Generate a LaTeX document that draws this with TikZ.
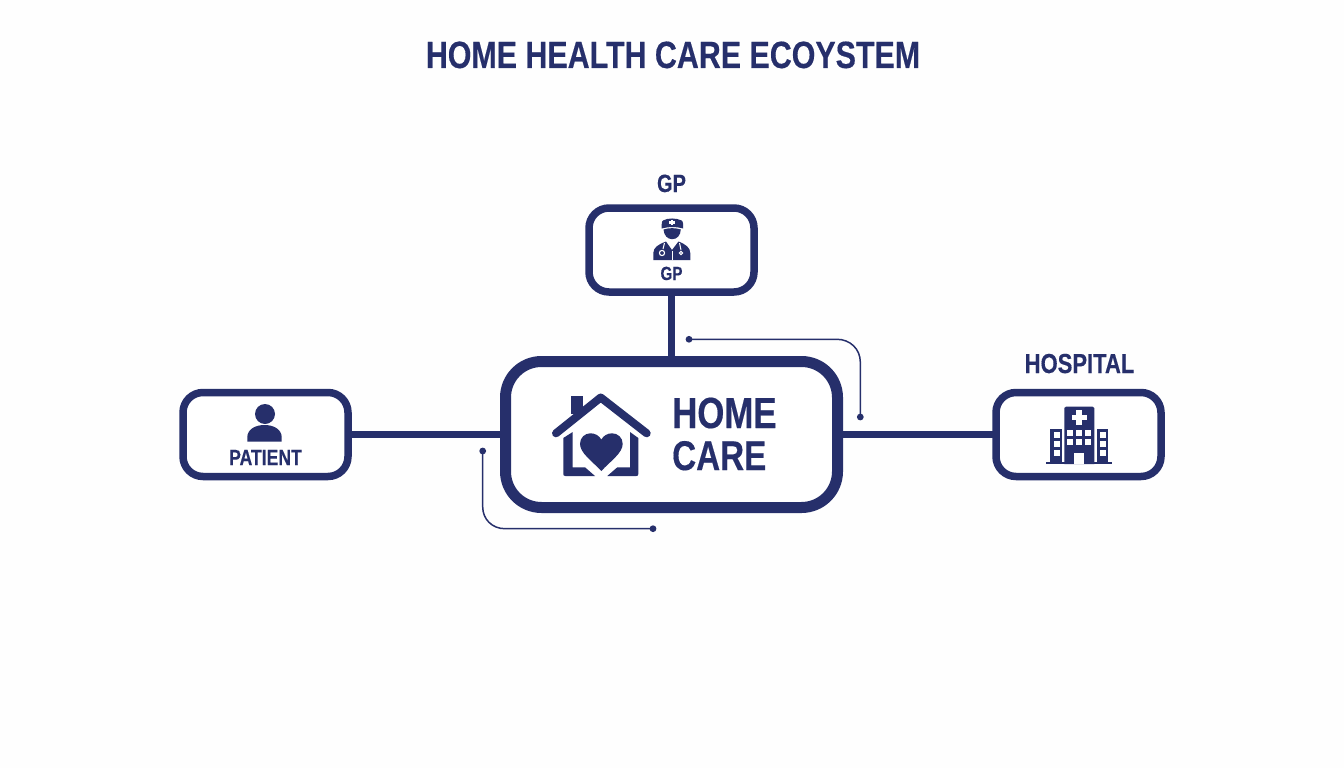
\documentclass[tikz,border=0pt]{standalone}
\usepackage{fontspec}
\setmainfont[FakeStretch=0.8,BoldFont={Liberation Sans Bold},BoldFeatures={FakeBold=0.35}]{Liberation Sans}
\definecolor{navy}{HTML}{262F6B}
\definecolor{paper}{HTML}{FEFEFE}
\tikzset{
  box/.style={draw=navy,fill=white,rectangle,inner sep=0pt,outer sep=0pt},
  smallbox/.style={box,line width=7.5pt,minimum width=165pt,minimum height=84pt,rounded corners=20pt},
  bigbox/.style={box,line width=11pt,minimum width=332pt,minimum height=146pt,rounded corners=36pt},
  label/.style={text=navy,inner sep=0pt,anchor=base,font=\bfseries},
  link/.style={draw=navy,line width=6.5pt},
  thin/.style={draw=navy,line width=1.5pt},
  dot/.style={fill=navy},
  ink/.style={fill=navy,draw=none},
  gap/.style={fill=paper,draw=none}
}
\newcommand{\fs}[1]{\fontsize{#1}{#1}\selectfont}
\begin{document}
\begin{tikzpicture}[x=1pt,y=-1pt]
\path[fill=paper] (0,0) rectangle (1344,768);
\useasboundingbox (0,0) rectangle (1344,768);

% boxes
\node[smallbox] (gp) at (671.5,250) {};
\node[bigbox] (home) at (671.5,434.5) {};
\node[smallbox] (patient) at (265.5,434.5) {};
\node[smallbox] (hospital) at (1078.5,434.5) {};

% connectors
\draw[link,line width=7.5pt] (gp.south) -- (home.north);
\draw[link] (patient.east) -- (home.west);
\draw[link] (home.east) -- (hospital.west);

% thin callouts
\coordinate (a1) at (689,339.3);
\coordinate (a2) at (860.3,417);
\coordinate (b1) at (482.7,451);
\coordinate (b2) at (653,528.7);
\draw[thin] (a1) -- (837,339.3) .. controls (850,339.3) and (860.3,349) .. (860.3,362) -- (a2);
\draw[thin] (b1) -- (482.7,507) .. controls (482.7,519) and (492,528.7) .. (505,528.7) -- (b2);
\fill[dot] (a1) circle (3.4pt);
\fill[dot] (a2) circle (3.4pt);
\fill[dot] (b1) circle (3.4pt);
\fill[dot] (b2) circle (3.4pt);

% texts
\node[label] (title) at (673,68) {\fs{38}HOME HEALTH CARE ECOYSTEM};
\node[label] (gptop) at (671.5,192) {\fs{25}GP};
\node[label] (gpin) at (671.5,280) {\fs{19}GP};
\node[label] (hosp) at (1079.5,373) {\fs{27.5}HOSPITAL};
\node[label] (pat) at (265.5,465) {\fs{22}PATIENT};
\node[label,anchor=base west] (homet) at (672,428) {\fs{43.5}HOME};
\node[label,anchor=base west] (caret) at (672,470) {\fs{41.5}CARE};

% doctor icon
\path[ink] (661.7,228.5) .. controls (661.5,224) and (661.8,221) .. (663,220.5)
  .. controls (668,217.8) and (676,217.8) .. (681.5,220.5)
  .. controls (683,221) and (683.3,224) .. (683.2,228.5)
  .. controls (676,226.5) and (669,226.5) .. (661.7,228.5) -- cycle;
\path[gap] (670.5,219.7) rectangle (673,225);
\path[gap] (669,221.2) rectangle (674.5,223.5);
\path[ink] (663.5,229.5) .. controls (669,227.7) and (675,227.7) .. (680.8,229.5)
  .. controls (680.5,235.5) and (677,239.2) .. (672.2,239.2)
  .. controls (667.5,239.2) and (664,235.5) .. (663.5,229.5) -- cycle;
\path[ink] (653.3,260) -- (653.3,253) .. controls (653.5,247.5) and (658,244.5) .. (666,241.5)
  -- (672,250) -- (678.5,241.5) .. controls (686,244.5) and (690,247.5) .. (690.3,253)
  -- (690.3,260) -- cycle;
\draw[paper,line width=1pt] (664.5,243) -- (663,249);
\draw[paper,line width=1.1pt] (662,253) circle (2.6pt);
\draw[paper,line width=1pt] (679.5,243) -- (681,250);
\draw[paper,line width=1pt] (681,253) circle (1.6pt);
\draw[paper,line width=1pt] (672,251) -- (672,260);

% house icon
\draw[navy,line width=8pt,line cap=round,line join=round] (556,433.3) -- (600.7,397.5) -- (646.7,433.3);
\path[ink] (570.7,396) rectangle (582.7,414);
\path[ink] (563.3,438) -- (572.7,432) -- (572.7,467.3) -- (585,467.3) -- (595,476) -- (565.3,476)
  .. controls (564,476) and (563.3,475.3) .. (563.3,474) -- cycle;
\path[ink] (638.3,438) -- (630,432) -- (630,467.3) -- (617.3,467.3) -- (607.3,476) -- (636.3,476)
  .. controls (637.6,476) and (638.3,475.3) .. (638.3,474) -- cycle;
\path[ink] (601.3,471) .. controls (592,461) and (580,453) .. (580,443.8)
  .. controls (580,437.5) and (585,433.3) .. (590.5,433.3)
  .. controls (595,433.3) and (599,435.5) .. (601.3,439.5)
  .. controls (603.6,435.5) and (607.6,433.3) .. (612.1,433.3)
  .. controls (617.6,433.3) and (622.7,437.5) .. (622.7,443.8)
  .. controls (622.7,453) and (610.6,461) .. (601.3,471) -- cycle;

% person icon
\fill[navy] (265,414) circle (10pt);
\path[ink] (247.3,441.7) -- (247.3,437) .. controls (247.5,429.5) and (255,425) .. (264.5,425)
  .. controls (274,425) and (281.5,429.5) .. (281.7,437) -- (281.7,441.7) -- cycle;

% hospital icon
\path[ink] (1064.3,408) .. controls (1064.3,407) and (1065,406.7) .. (1066,406.7)
  -- (1092.6,406.7) .. controls (1093.6,406.7) and (1094.3,407) .. (1094.3,408) -- (1094.3,464) -- (1064.3,464) -- cycle;
\path[ink] (1050.3,429.3) rectangle (1062.3,464);
\path[ink] (1096.7,429.3) rectangle (1108.3,464);
\path[ink] (1045.7,461.5) rectangle (1112.3,464);
\path[gap] (1076.2,410) rectangle (1082,424.7);
\path[gap] (1071.7,414.5) rectangle (1086.5,420.2);
\foreach \wy in {431.5,440.5,449.5} {
  \path[gap] (1053.5,\wy) rectangle (1059.5,\wy+6);
  \path[gap] (1099.7,\wy) rectangle (1105.7,\wy+6);
}
\foreach \wx in {1067.3,1076.3,1085.3} {
  \foreach \wy in {429.5,439} {
    \path[gap] (\wx,\wy) rectangle (\wx+5.6,\wy+6);
  }
}
\path[gap] (1074.3,464) -- (1074.3,452.5) -- (1084.3,452.5) -- (1084.3,464) -- cycle;
\end{tikzpicture}
\end{document}
